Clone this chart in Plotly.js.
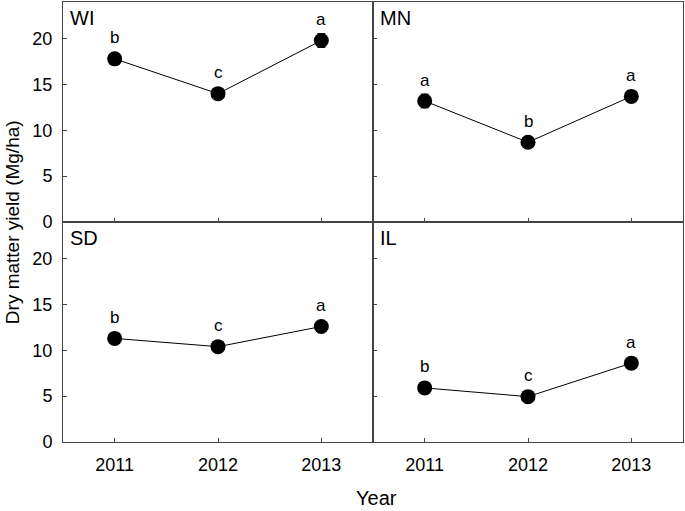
<!DOCTYPE html>
<html><head><meta charset="utf-8">
<script src="https://cdn.plot.ly/plotly-3.0.1.min.js"></script>
<style>body{margin:0;padding:0;background:#fff}#chart{width:685px;height:511px}</style>
</head><body><div id="chart"></div>
<script>
const years = ['2011', '2012', '2013'];
const sites = ['WI', 'MN', 'SD', 'IL'];
const wiYield = [17.8, 14.0, 19.8];
const mnYield = [13.2, 8.7, 13.7];
const sdYield = [11.3, 10.4, 12.6];
const ilYield = [5.9, 4.95, 8.6];
const wiErr = [0.4, 0.3, 0.75];
const mnErr = [0.75, 0.3, 0.3];
const sdErr = [0.3, 0.3, 0.5];
const ilErr = [0.3, 0.3, 0.4];
const wiLetters = ['b', 'c', 'a'];
const mnLetters = ['a', 'b', 'a'];
const sdLetters = ['b', 'c', 'a'];
const ilLetters = ['b', 'c', 'a'];

const series = [wiYield, mnYield, sdYield, ilYield];
const errs = [wiErr, mnErr, sdErr, ilErr];
const letters = [wiLetters, mnLetters, sdLetters, ilLetters];
const axSuffix = ['', '2', '3', '4'];
const font = 'Arial, "Liberation Sans", sans-serif';

const data = series.map((ys, i) => ({
  type: 'scatter', mode: 'lines+markers',
  x: years, y: ys,
  xaxis: 'x' + axSuffix[i], yaxis: 'y' + axSuffix[i],
  line: {color: '#000', width: 1},
  marker: {color: '#000', size: 15},
  error_y: {type: 'data', array: errs[i], visible: true, color: '#000', thickness: 1, width: 4},
  hoverinfo: 'x+y', showlegend: false
}));

const annotations = [];
series.forEach((ys, i) => {
  ys.forEach((v, j) => {
    annotations.push({
      xref: 'x' + axSuffix[i], yref: 'y' + axSuffix[i],
      x: j, y: v, text: letters[i][j], showarrow: false,
      yshift: 21, font: {family: font, size: 17, color: '#000'}
    });
  });
  annotations.push({
    xref: 'x' + axSuffix[i] + ' domain', yref: 'y' + axSuffix[i] + ' domain',
    x: 0.015, y: 0.985, xanchor: 'left', yanchor: 'top',
    text: sites[i], showarrow: false,
    font: {family: font, size: 20, color: '#000'}
  });
});
annotations.push({
  xref: 'paper', yref: 'paper', x: -0.082, y: 0.5, textangle: -90,
  text: 'Dry matter yield (Mg/ha)', showarrow: false,
  xanchor: 'center', yanchor: 'middle',
  font: {family: font, size: 19, color: '#000'}
});
annotations.push({
  xref: 'paper', yref: 'paper', x: 0.505, y: -0.127,
  text: 'Year', showarrow: false, xanchor: 'center', yanchor: 'middle',
  font: {family: font, size: 20, color: '#000'}
});

function xax(domain, showLabels, anchor) {
  return {
    domain: domain, anchor: anchor, type: 'category',
    range: [-0.5, 2.5], showline: true, mirror: true, linecolor: '#444', linewidth: 1,
    ticks: 'inside', ticklen: 4, tickcolor: '#444', showgrid: false, zeroline: false,
    showticklabels: showLabels, ticklabelstandoff: 6,
    tickfont: {family: font, size: 18, color: '#000'}, fixedrange: true
  };
}
function yax(domain, showLabels, anchor) {
  return {
    domain: domain, anchor: anchor, range: [0, 24],
    tickvals: [0, 5, 10, 15, 20], showline: true, mirror: true, linecolor: '#444', linewidth: 1,
    ticks: 'inside', ticklen: 4, tickcolor: '#444', showgrid: false, zeroline: false,
    showticklabels: showLabels, ticklabelstandoff: 6,
    tickfont: {family: font, size: 18, color: '#000'}, fixedrange: true
  };
}

const layout = {
  width: 685, height: 511,
  margin: {l: 63, r: 2, t: 2, b: 69},
  paper_bgcolor: '#fff', plot_bgcolor: '#fff',
  xaxis: xax([0, 0.5], false, 'y'),
  yaxis: yax([0.5, 1], true, 'x'),
  xaxis2: xax([0.5, 1], false, 'y2'),
  yaxis2: yax([0.5, 1], false, 'x2'),
  xaxis3: xax([0, 0.5], true, 'y3'),
  yaxis3: yax([0, 0.5], true, 'x3'),
  xaxis4: xax([0.5, 1], true, 'y4'),
  yaxis4: yax([0, 0.5], false, 'x4'),
  annotations: annotations
};

Plotly.newPlot('chart', data, layout, {displayModeBar: false, staticPlot: true});
</script></body></html>
